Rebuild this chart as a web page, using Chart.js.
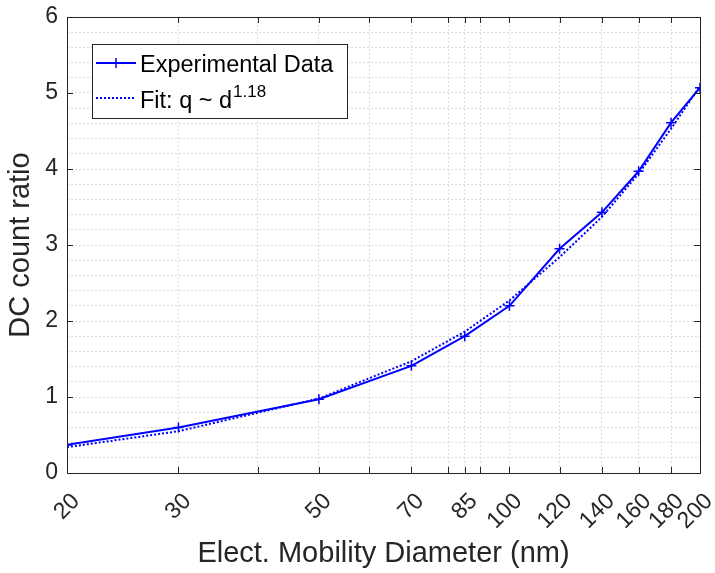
<!DOCTYPE html>
<html>
<head>
<meta charset="utf-8">
<script src="https://cdn.jsdelivr.net/npm/chart.js@4/dist/chart.umd.min.js"></script>
<style>
  html, body { margin: 0; padding: 0; background: #fff; }
</style>
</head>
<body>
<canvas id="dcChart" width="715" height="573"></canvas>
<script>
// diameters (nm) and measured / fitted ratios
const diameters = [20, 30, 50, 70, 85, 100, 120, 140, 160, 180, 200];
const expData = [0.37, 0.60, 0.97, 1.41, 1.80, 2.20, 2.95, 3.43, 3.97, 4.61, 5.07];
const fitData = [0.34, 0.55, 0.98, 1.47, 1.86, 2.27, 2.84, 3.37, 3.94, 4.53, 5.09];
const xLabelTicks = [20, 30, 50, 70, 85, 100, 120, 140, 160, 180, 200];
const xMinorTicks = [40, 60, 80, 90];
const yMajorTicks = [0, 1, 2, 3, 4, 5, 6];

const textColor = '#262626';
const gridColor = '#dcdcdc';
const font = 'Liberation Sans, Arial, Helvetica, sans-serif';

function toPoints(xs, ys) {
    return xs.map(function (x, i) { return { x: x, y: ys[i] }; });
}

// frame with inward ticks, like the matlab box
const framePlugin = {
    id: 'frame',
    afterDraw: function (chart) {
        const ctx = chart.ctx;
        const a = chart.chartArea;
        const xs = chart.scales.x;
        const ys = chart.scales.y;
        ctx.save();
        ctx.strokeStyle = textColor;
        ctx.lineWidth = 1;
        ctx.beginPath();
        xLabelTicks.concat(xMinorTicks).forEach(function (v) {
            const px = Math.round(xs.getPixelForValue(v)) + 0.5;
            ctx.moveTo(px, a.bottom); ctx.lineTo(px, a.bottom - 6);
            ctx.moveTo(px, a.top); ctx.lineTo(px, a.top + 6);
        });
        yMajorTicks.forEach(function (v) {
            const py = Math.round(ys.getPixelForValue(v)) + 0.5;
            ctx.moveTo(a.left, py); ctx.lineTo(a.left + 6, py);
            ctx.moveTo(a.right, py); ctx.lineTo(a.right - 6, py);
        });
        ctx.stroke();
        ctx.strokeRect(Math.round(a.left) + 0.5, Math.round(a.top) + 0.5,
            Math.round(a.right - a.left), Math.round(a.bottom - a.top));
        ctx.restore();
    }
};

// legend box drawn inside the plot, top left
const legendPlugin = {
    id: 'boxLegend',
    afterDraw: function (chart) {
        const ctx = chart.ctx;
        const bx = 92, by = 44, bw = 255, bh = 74;
        ctx.save();
        ctx.fillStyle = '#fff';
        ctx.fillRect(bx, by, bw, bh);
        ctx.strokeStyle = textColor;
        ctx.lineWidth = 1;
        ctx.strokeRect(bx + 0.5, by + 0.5, bw, bh);

        const rows = [63, 98];
        ctx.strokeStyle = '#0000ff';
        ctx.lineWidth = 2;
        ctx.beginPath();
        ctx.moveTo(96, rows[0]); ctx.lineTo(136, rows[0]);
        ctx.stroke();
        ctx.lineWidth = 1.5;
        ctx.beginPath();
        ctx.moveTo(116, rows[0] - 5); ctx.lineTo(116, rows[0] + 5);
        ctx.moveTo(111, rows[0]); ctx.lineTo(121, rows[0]);
        ctx.stroke();
        ctx.lineWidth = 2;
        ctx.setLineDash([2, 2]);
        ctx.beginPath();
        ctx.moveTo(96, rows[1]); ctx.lineTo(136, rows[1]);
        ctx.stroke();
        ctx.setLineDash([]);

        ctx.fillStyle = '#000';
        ctx.textBaseline = 'alphabetic';
        ctx.textAlign = 'left';
        ctx.font = '23.5px ' + font;
        ctx.fillText('Experimental Data', 140, 72);
        ctx.fillText('Fit: q ~ d', 140, 108);
        const w = ctx.measureText('Fit: q ~ d').width;
        ctx.font = '17px ' + font;
        ctx.fillText('1.18', 140 + w + 1, 97);
        ctx.restore();
    }
};

new Chart(document.getElementById('dcChart').getContext('2d'), {
    type: 'scatter',
    data: {
        datasets: [{
            label: 'Experimental Data',
            data: toPoints(diameters, expData),
            showLine: true,
            borderColor: '#0000ff',
            backgroundColor: '#0000ff',
            borderWidth: 2,
            pointStyle: 'cross',
            pointRadius: 5,
            pointBorderWidth: 1.5
        }, {
            label: 'Fit',
            data: toPoints(diameters, fitData),
            showLine: true,
            borderColor: '#0000ff',
            borderWidth: 2,
            borderDash: [2, 2],
            pointRadius: 0
        }]
    },
    options: {
        responsive: false,
        animation: false,
        devicePixelRatio: 1,
        layout: { padding: { top: 17, right: 15, left: 0, bottom: 0 } },
        plugins: {
            legend: { display: false },
            tooltip: { enabled: false }
        },
        scales: {
            x: {
                type: 'logarithmic',
                min: 20,
                max: 200,
                afterBuildTicks: function (scale) {
                    scale.ticks = xLabelTicks.concat(xMinorTicks)
                        .sort(function (a, b) { return a - b; })
                        .map(function (v) { return { value: v }; });
                },
                afterFit: function (scale) {
                    scale.height = 100;
                    scale.paddingLeft = 0;
                    scale.paddingRight = 0;
                },
                ticks: {
                    autoSkip: false,
                    minRotation: 45,
                    maxRotation: 45,
                    padding: 15,
                    labelOffset: 9,
                    color: textColor,
                    font: { family: font, size: 23 },
                    callback: function (v) {
                        return xLabelTicks.indexOf(v) >= 0 ? String(v) : '';
                    }
                },
                grid: { color: gridColor, drawTicks: false },
                border: { display: false, dash: [2, 2] },
                title: {
                    display: true,
                    text: 'Elect. Mobility Diameter (nm)',
                    color: textColor,
                    font: { family: font, size: 29 },
                    padding: { top: 0, bottom: 2 }
                }
            },
            y: {
                min: 0,
                max: 6,
                afterBuildTicks: function (scale) {
                    const t = [];
                    for (let i = 0; i <= 30; i++) t.push({ value: i / 5 });
                    scale.ticks = t;
                },
                afterFit: function (scale) {
                    scale.width = 67;
                    scale.paddingTop = 0;
                    scale.paddingBottom = 0;
                },
                ticks: {
                    autoSkip: false,
                    padding: 9,
                    color: textColor,
                    font: { family: font, size: 23 },
                    callback: function (v) {
                        return yMajorTicks.indexOf(Math.round(v * 1000) / 1000) >= 0 ? String(Math.round(v)) : '';
                    }
                },
                grid: { color: gridColor, drawTicks: false },
                border: { display: false, dash: [2, 2] },
                title: {
                    display: true,
                    text: 'DC count ratio',
                    color: textColor,
                    font: { family: font, size: 29 },
                    padding: { top: 4, bottom: 0 }
                }
            }
        }
    },
    plugins: [framePlugin, legendPlugin]
});
</script>
</body>
</html>
